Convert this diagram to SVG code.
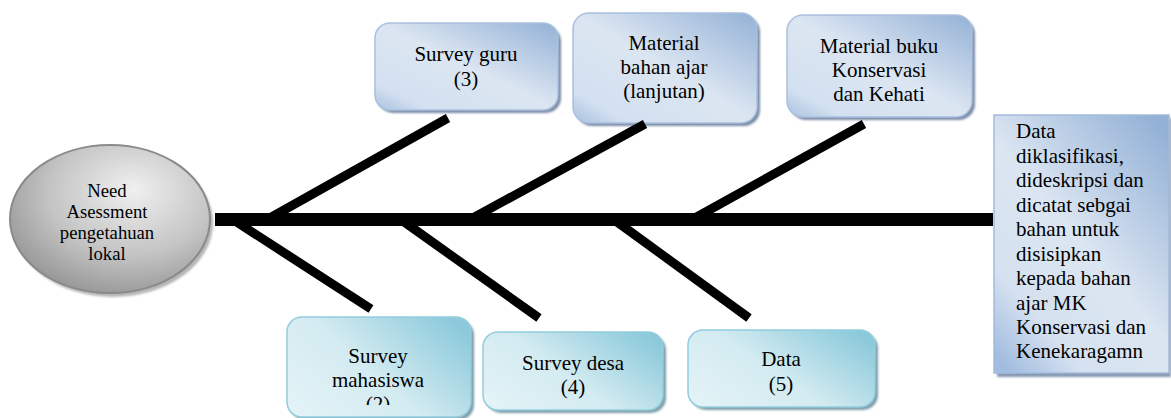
<svg xmlns="http://www.w3.org/2000/svg" width="1171" height="418" viewBox="0 0 1171 418">
<defs>
<style>
.t{font-family:"Liberation Serif","Times New Roman",serif;font-size:21px;fill:#000;text-anchor:middle}
.tl{font-family:"Liberation Serif","Times New Roman",serif;font-size:21px;fill:#000}
.te{font-family:"Liberation Serif","Times New Roman",serif;font-size:18.7px;fill:#000;text-anchor:middle}
.bb{fill:url(#gBlue);stroke:#a9c0de;stroke-width:1.5}
.tb{fill:url(#gTeal);stroke:#93cddd;stroke-width:1.5}
.sb{fill:#7d8ea8;filter:url(#blur)}
.st{fill:#7f9eab;filter:url(#blur)}
.bone{stroke:#000;stroke-width:9;stroke-linecap:butt;fill:none}
</style>
<linearGradient id="gBlue" x1="1" y1="0" x2="0" y2="1">
<stop offset="0" stop-color="#93b1d6"/>
<stop offset="0.5" stop-color="#dce6f2"/>
<stop offset="0.85" stop-color="#d3e0f0"/>
<stop offset="1" stop-color="#a9c1e0"/>
</linearGradient>
<linearGradient id="gTeal" x1="0" y1="0.8" x2="1" y2="0.2">
<stop offset="0" stop-color="#e2f2f6"/>
<stop offset="0.45" stop-color="#d3ebf1"/>
<stop offset="1" stop-color="#8ccadb"/>
</linearGradient>
<linearGradient id="gRight" x1="0.9" y1="0" x2="0.1" y2="1">
<stop offset="0" stop-color="#93b1d6"/>
<stop offset="0.5" stop-color="#dce6f2"/>
<stop offset="0.8" stop-color="#d5e1f0"/>
<stop offset="1" stop-color="#a3bde0"/>
</linearGradient>
<radialGradient id="gGray" cx="0.6" cy="0.35" r="0.75" fx="0.62" fy="0.3">
<stop offset="0" stop-color="#f0f0f0"/>
<stop offset="0.55" stop-color="#c4c4c4"/>
<stop offset="1" stop-color="#8e8e8e"/>
</radialGradient>
<filter id="blur" x="-10%" y="-10%" width="120%" height="130%">
<feGaussianBlur stdDeviation="1.2"/>
</filter>
<clipPath id="clipMaha"><rect x="287" y="317" width="184" height="88"/></clipPath>
</defs>

<g id="node-need">
<ellipse cx="113" cy="223" rx="100" ry="74" fill="#b5b5b5" filter="url(#blur)"/>
<ellipse cx="110" cy="219" rx="100" ry="74" fill="url(#gGray)" stroke="#8a8a8a" stroke-width="2"/>
<text class="te" x="107" y="197">Need</text>
<text class="te" x="107" y="218">Asessment</text>
<text class="te" x="107" y="239">pengetahuan</text>
<text class="te" x="107" y="260">lokal</text>
</g>

<g id="node-survey-guru">
<rect class="sb" x="378" y="26" width="183" height="87" rx="15"/>
<rect class="bb" x="375" y="23" width="183" height="87" rx="15"/>
<text class="t" x="466" y="61">Survey guru</text>
<text class="t" x="466" y="86">(3)</text>
</g>

<g id="node-material-bahan">
<rect class="sb" x="576" y="16" width="184" height="110" rx="16"/>
<rect class="bb" x="573" y="13" width="184" height="110" rx="16"/>
<text class="t" x="664" y="50">Material</text>
<text class="t" x="664" y="74">bahan ajar</text>
<text class="t" x="664" y="98">(lanjutan)</text>
</g>

<g id="node-material-buku">
<rect class="sb" x="790" y="18" width="185" height="102" rx="16"/>
<rect class="bb" x="787" y="15" width="185" height="102" rx="16"/>
<text class="t" x="879" y="53">Material buku</text>
<text class="t" x="879" y="77">Konservasi</text>
<text class="t" x="879" y="101">dan Kehati</text>
</g>

<g id="node-survey-mahasiswa">
<rect class="st" x="290" y="320" width="184" height="100" rx="15"/>
<rect class="tb" x="287" y="317" width="184" height="100" rx="15"/>
<g clip-path="url(#clipMaha)">
<text class="t" x="378" y="363">Survey</text>
<text class="t" x="378" y="387">mahasiswa</text>
<text class="t" x="378" y="411">(2)</text>
</g>
</g>

<g id="node-survey-desa">
<rect class="st" x="486" y="335" width="180" height="78" rx="15"/>
<rect class="tb" x="483" y="332" width="180" height="78" rx="15"/>
<text class="t" x="573" y="370">Survey desa</text>
<text class="t" x="573" y="394">(4)</text>
</g>

<g id="node-data">
<rect class="st" x="691" y="333" width="187" height="77" rx="15"/>
<rect class="tb" x="688" y="330" width="187" height="77" rx="15"/>
<text class="t" x="781" y="366">Data</text>
<text class="t" x="781" y="391">(5)</text>
</g>

<g id="node-result">
<rect x="997" y="118" width="174" height="259" fill="#8799b2" filter="url(#blur)"/>
<rect x="994" y="115" width="175" height="258" fill="url(#gRight)" stroke="#a3bcdc" stroke-width="1.5"/>
<text class="tl" x="1016" y="138">Data</text>
<text class="tl" x="1016" y="163">diklasifikasi,</text>
<text class="tl" x="1016" y="187">dideskripsi dan</text>
<text class="tl" x="1016" y="212">dicatat sebgai</text>
<text class="tl" x="1016" y="236">bahan untuk</text>
<text class="tl" x="1016" y="261">disisipkan</text>
<text class="tl" x="1016" y="285">kepada bahan</text>
<text class="tl" x="1016" y="310">ajar MK</text>
<text class="tl" x="1016" y="334">Konservasi dan</text>
<text class="tl" x="1016" y="358">Kenekaragamn</text>
</g>

<g id="connectors">
<rect x="215" y="213" width="778" height="13" fill="#000"/>
<line class="bone" x1="268" y1="219" x2="448" y2="118"/>
<line class="bone" x1="471" y1="219" x2="645" y2="124"/>
<line class="bone" x1="693" y1="219" x2="864" y2="124"/>
<line class="bone" x1="232" y1="219" x2="371" y2="309"/>
<line class="bone" x1="400" y1="219" x2="539" y2="318"/>
<line class="bone" x1="613" y1="219" x2="749" y2="318"/>
</g>
</svg>
